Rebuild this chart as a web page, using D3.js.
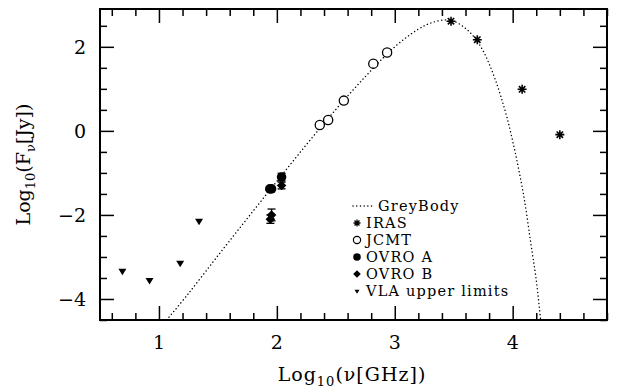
<!DOCTYPE html>
<html>
<head>
<meta charset="utf-8">
<script src="https://cdn.jsdelivr.net/npm/d3@7"></script>
<style>
  body { margin: 0; background: #fff; }
  svg { display: block; }
  text { font-family: "DejaVu Serif", "Liberation Serif", serif; fill: #000; }
</style>
</head>
<body>
<div id="chart"></div>
<script>
// values
const irasX = [3.477, 3.70, 4.08, 4.40];
const irasY = [2.61, 2.17, 0.99, -0.09];

const jcmtX = [2.364, 2.435, 2.568, 2.818, 2.935];
const jcmtY = [0.14, 0.26, 0.72, 1.60, 1.865];

const ovroAX = [1.94, 1.955, 2.04];
const ovroAY = [-1.38, -1.38, -1.10];
const ovroAErr = [0.03, 0.03, 0.09];

const ovroBX = [1.945, 1.955, 2.04];
const ovroBY = [-2.10, -2.00, -1.30];
const ovroBErr = [0.10, 0.14, 0.08];

const vlaX = [0.69, 0.92, 1.18, 1.34];
const vlaY = [-3.33, -3.55, -3.14, -2.14];

const greyX = [1.065, 1.25, 1.5, 1.75, 2.0, 2.25, 2.5, 2.75, 3.0, 3.2, 3.3, 3.42, 3.5, 3.6, 3.68, 3.75, 3.8, 3.85, 3.9, 3.95, 4.0, 4.05, 4.1, 4.15, 4.2, 4.237];
const greyY = [-4.5, -3.87, -2.97, -2.08, -1.20, -0.33, 0.51, 1.29, 2.0, 2.42, 2.56, 2.64, 2.61, 2.44, 2.21, 1.90, 1.60, 1.24, 0.82, 0.34, -0.24, -0.90, -1.65, -2.60, -3.55, -4.5];

const xMajor = [1, 2, 3, 4];
const yMajor = [-4, -2, 0, 2];
const legendLabels = ["GreyBody", "IRAS", "JCMT", "OVRO A", "OVRO B", "VLA upper limits"];

const width = 621, height = 388;
const margin = { top: 9, right: 14, bottom: 68, left: 100 };

const svg = d3.select("#chart").append("svg")
    .attr("width", width)
    .attr("height", height);

const x = d3.scaleLinear().domain([0.5, 4.8]).range([margin.left, width - margin.right]);
const y = d3.scaleLinear().domain([-4.5, 2.9]).range([height - margin.bottom, margin.top]);

svg.append("clipPath").attr("id", "plotclip")
    .append("rect")
    .attr("x", margin.left).attr("y", margin.top)
    .attr("width", width - margin.left - margin.right)
    .attr("height", height - margin.top - margin.bottom);

// ticks on all four sides
const xMinor = d3.range(0.6, 4.8001, 0.2).filter(v => !xMajor.some(m => Math.abs(m - v) < 1e-6));
const yMinor = d3.range(-4.5, 2.9001, 0.5).filter(v => !yMajor.some(m => Math.abs(m - v) < 1e-6));

function addAxis(gen, pos, ticks, size) {
    svg.append("g")
        .attr("transform", pos)
        .call(gen.tickValues(ticks).tickSize(size).tickFormat(""))
        .call(g => g.select(".domain").remove())
        .call(g => g.selectAll("line").attr("stroke", "#000").attr("stroke-width", 1.5));
}
const B = height - margin.bottom, T = margin.top, L = margin.left, R = width - margin.right;
addAxis(d3.axisTop(x), `translate(0,${B})`, xMajor, 14);
addAxis(d3.axisTop(x), `translate(0,${B})`, xMinor, 7);
addAxis(d3.axisBottom(x), `translate(0,${T})`, xMajor, 14);
addAxis(d3.axisBottom(x), `translate(0,${T})`, xMinor, 7);
addAxis(d3.axisRight(y), `translate(${L},0)`, yMajor, 14);
addAxis(d3.axisRight(y), `translate(${L},0)`, yMinor, 7);
addAxis(d3.axisLeft(y), `translate(${R},0)`, yMajor, 14);
addAxis(d3.axisLeft(y), `translate(${R},0)`, yMinor, 7);

svg.append("rect")
    .attr("x", L).attr("y", T)
    .attr("width", R - L).attr("height", B - T)
    .attr("fill", "none").attr("stroke", "#000").attr("stroke-width", 2);

// tick labels
const fmt = v => v < 0 ? "\u2212" + Math.abs(v) : String(v);
svg.selectAll(".xlab").data(xMajor).enter().append("text")
    .attr("x", d => x(d)).attr("y", 349)
    .attr("text-anchor", "middle")
    .style("font-size", "19px")
    .text(fmt);
svg.selectAll(".ylab").data(yMajor).enter().append("text")
    .attr("x", 86).attr("y", d => y(d) + 7)
    .attr("text-anchor", "end")
    .style("font-size", "19px")
    .text(fmt);

// axis titles
const xt = svg.append("text")
    .attr("x", 352).attr("y", 381)
    .attr("text-anchor", "middle")
    .style("font-size", "19px")
    .style("letter-spacing", "1px");
xt.append("tspan").text("Log");
xt.append("tspan").attr("dy", 5).style("font-size", "13px").text("10");
xt.append("tspan").attr("dy", -5).text("(\u03bd[GHz])");

const yt = svg.append("text")
    .attr("transform", `translate(30,${(T + B) / 2}) rotate(-90)`)
    .attr("text-anchor", "middle")
    .style("font-size", "19px");
yt.append("tspan").text("Log");
yt.append("tspan").attr("dy", 5).style("font-size", "13px").text("10");
yt.append("tspan").attr("dy", -5).text("(F");
yt.append("tspan").attr("dy", 5).style("font-size", "13px").text("\u03bd");
yt.append("tspan").attr("dy", -5).text("[Jy])");

// greybody curve
const plot = svg.append("g").attr("clip-path", "url(#plotclip)");
const greyData = greyX.map((v, i) => [v, greyY[i]]);
const line = d3.line().x(d => x(d[0])).y(d => y(d[1])).curve(d3.curveCatmullRom);
plot.append("path")
    .datum(greyData)
    .attr("d", line)
    .attr("fill", "none")
    .attr("stroke", "#000")
    .attr("stroke-width", 1.4)
    .attr("stroke-linecap", "round")
    .attr("stroke-dasharray", "0.1,3.6");

// marker paths
function starPath(s) {
    const d = s * Math.SQRT1_2;
    return `M0,${-s}L0,${s}M${-s},0L${s},0M${-d},${-d}L${d},${d}M${-d},${d}L${d},${-d}`;
}
function diamondPath(s) {
    return `M0,${-s}L${s},0L0,${s}L${-s},0Z`;
}
function triPath(w, h) {
    return `M${-w / 2},${-h / 3}L${w / 2},${-h / 3}L0,${2 * h / 3}Z`;
}

// error bars
function errorBars(xs, ys, es) {
    xs.forEach((v, i) => {
        const cx = x(v), y0 = y(ys[i] - es[i]), y1 = y(ys[i] + es[i]);
        const g = svg.append("g").attr("stroke", "#000").attr("stroke-width", 1.3);
        g.append("line").attr("x1", cx).attr("x2", cx).attr("y1", y0).attr("y2", y1);
        g.append("line").attr("x1", cx - 4).attr("x2", cx + 4).attr("y1", y0).attr("y2", y0);
        g.append("line").attr("x1", cx - 4).attr("x2", cx + 4).attr("y1", y1).attr("y2", y1);
    });
}
errorBars(ovroAX, ovroAY, ovroAErr);
errorBars(ovroBX, ovroBY, ovroBErr);

svg.selectAll(".iras").data(irasX).enter().append("path")
    .attr("transform", (d, i) => `translate(${x(d)},${y(irasY[i])})`)
    .attr("d", starPath(4.5))
    .attr("stroke", "#000").attr("stroke-width", 1.6).attr("fill", "none");

svg.selectAll(".jcmt").data(jcmtX).enter().append("circle")
    .attr("cx", d => x(d)).attr("cy", (d, i) => y(jcmtY[i]))
    .attr("r", 4.6)
    .attr("fill", "#fff").attr("stroke", "#000").attr("stroke-width", 1.3);

svg.selectAll(".ovroa").data(ovroAX).enter().append("circle")
    .attr("cx", d => x(d)).attr("cy", (d, i) => y(ovroAY[i]))
    .attr("r", 4.8)
    .attr("fill", "#000");

svg.selectAll(".ovrob").data(ovroBX).enter().append("path")
    .attr("transform", (d, i) => `translate(${x(d)},${y(ovroBY[i])})`)
    .attr("d", diamondPath(4.8))
    .attr("fill", "#000");

svg.selectAll(".vla").data(vlaX).enter().append("path")
    .attr("transform", (d, i) => `translate(${x(d)},${y(vlaY[i])})`)
    .attr("d", triPath(8, 6.5))
    .attr("fill", "#000");

// legend
const legRow = i => 206 + 17 * i;
const legend = svg.append("g");
legend.append("line")
    .attr("x1", 353).attr("x2", 374).attr("y1", legRow(0)).attr("y2", legRow(0))
    .attr("stroke", "#000").attr("stroke-width", 1.4)
    .attr("stroke-linecap", "round").attr("stroke-dasharray", "0.1,3.6");
legend.append("path").attr("transform", `translate(357,${legRow(1)})`)
    .attr("d", starPath(3.5)).attr("stroke", "#000").attr("stroke-width", 1.3);
legend.append("circle").attr("cx", 357).attr("cy", legRow(2)).attr("r", 3.6)
    .attr("fill", "none").attr("stroke", "#000").attr("stroke-width", 1.2);
legend.append("circle").attr("cx", 357).attr("cy", legRow(3)).attr("r", 3.8).attr("fill", "#000");
legend.append("path").attr("transform", `translate(357,${legRow(4)})`)
    .attr("d", diamondPath(3.8)).attr("fill", "#000");
legend.append("path").attr("transform", `translate(357,${legRow(5)})`)
    .attr("d", triPath(5, 4)).attr("fill", "#000");

legend.selectAll(".lt").data(legendLabels).enter().append("text")
    .attr("x", (d, i) => i === 0 ? 378 : 366)
    .attr("y", (d, i) => legRow(i) + 5)
    .style("font-size", "14.5px")
    .style("letter-spacing", "1.2px")
    .text(d => d);
</script>
</body>
</html>
